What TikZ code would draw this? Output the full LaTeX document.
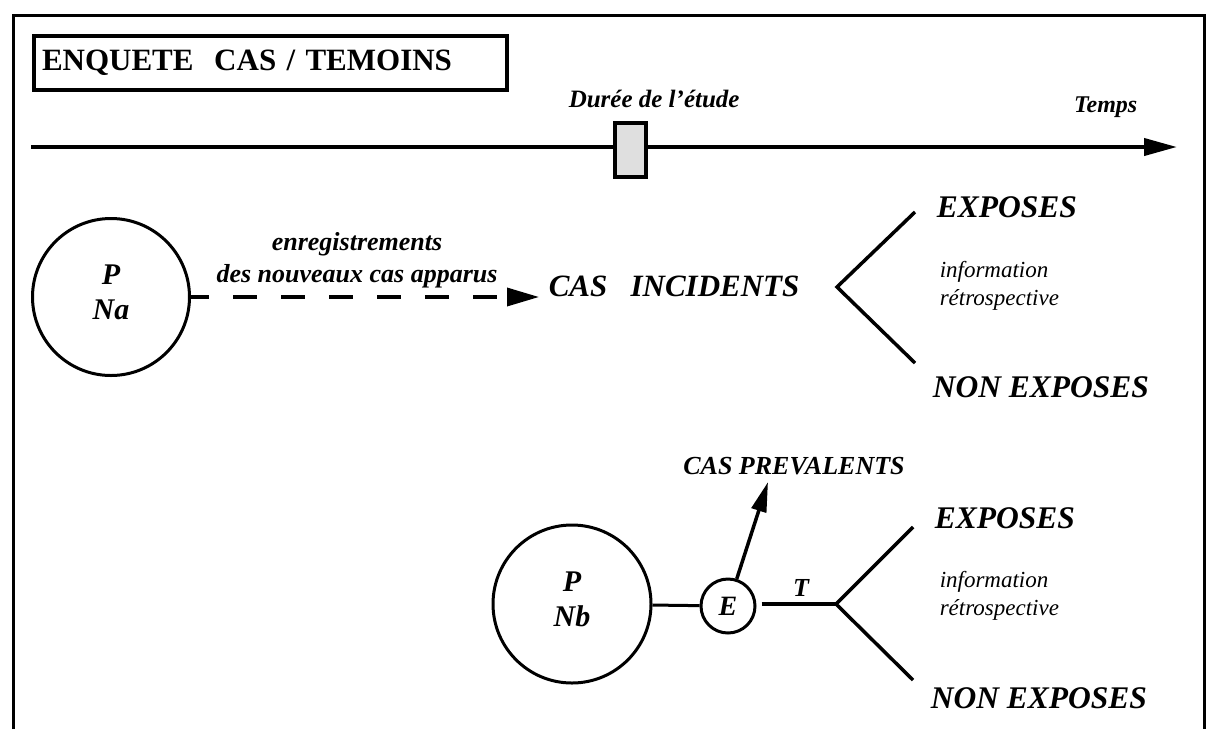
\documentclass[tikz,border=0pt]{standalone}
\usepackage{fontspec}
\setmainfont{Liberation Serif}
\usetikzlibrary{arrows.meta}

\tikzset{
  lab/.style={font=\bfseries\itshape\fontsize{#1}{#1}\selectfont, inner sep=0pt},
  info/.style={font=\itshape\fontsize{23}{28}\selectfont, inner sep=0pt, align=left, anchor=base west},
  pop/.style={circle, draw, line width=3pt, align=center, inner sep=0pt,
              font=\bfseries\itshape\fontsize{30}{35}\selectfont, text depth=9pt},
}

\begin{document}
\begin{tikzpicture}[x=1pt, y=-1pt, line width=3.5pt]
  \useasboundingbox (0,0) rectangle (1209,729);

  % Frame and title
  \draw[line width=3pt] (13,729) -- (13,15) -- (1204,15) -- (1204,729);
  \node[draw, anchor=north west, minimum width=473, minimum height=54,
        text width=457, align=left, inner xsep=8pt, line width=4pt,
        font=\bfseries\fontsize{31}{31}\selectfont] (title) at (32,34) {ENQUETE\ \ CAS / TEMOINS};

  % Time axis
  \coordinate (t0) at (31,147);
  \coordinate (t1) at (1177,147);
  \draw[line width=4pt, -{Triangle[length=33pt,width=17pt]}] (t0) -- (t1);
  \node[draw, fill=gray!25, line width=4pt, minimum width=31, minimum height=54, inner sep=0pt] (etude) at (630,150) {};
  \node[lab=25, anchor=base west] (duree) at (567,107) {Durée de l'étude};
  \node[lab=24, anchor=base east] (temps) at (1139,112) {Temps};

  % Incident cases
  \node[pop, minimum size=157] (Na) at (111,297) {P\\Na};
  \node[lab=31, anchor=base west] (inc) at (547,296) {CAS\ \ \ INCIDENTS};
  \draw[dash pattern=on 24pt off 24pt, dash phase=6pt, -{Triangle[length=32pt,width=18pt]},
        shorten >=8pt] (Na.east) -- (Na.east -| inc.west);
  \node[align=center, inner sep=0pt, font=\bfseries\itshape\fontsize{26}{32}\selectfont,
        anchor=base] (enr) at (357,282) {enregistrements\\des nouveaux cas apparus};

  \coordinate (ba) at (837,287);
  \coordinate (ba1) at (915,212);
  \coordinate (ba2) at (915,363);
  \draw (ba1) -- (ba) -- (ba2);
  \node[lab=31.5, anchor=base west] (expa) at (935,217) {EXPOSES};
  \node[info] (infoa) at (938,305) {information\\rétrospective};
  \node[lab=31.5, anchor=base west] (nona) at (931,397) {NON EXPOSES};

  % Prevalent cases
  \node[pop, minimum size=158] (Nb) at (572,604) {P\\Nb};
  \node[pop, minimum size=54, text depth=0pt, font=\bfseries\itshape\fontsize{28}{28}\selectfont] (E) at (728,606) {E};
  \node[lab=26] (prev) at (794,466) {CAS PREVALENTS};
  \coordinate (pv) at (768,482);
  \draw[line width=3pt] (Nb) -- (E);
  \draw[-{Triangle[length=30pt,width=15pt]}] (E) -- (pv);

  \coordinate (bb) at (836,604);
  \coordinate (bb1) at (913,527);
  \coordinate (bb2) at (913,680);
  \draw[shorten <=5pt] (E.east |- bb) -- (bb);
  \node[lab=26] (T) at (801,588) {T};
  \draw (bb1) -- (bb) -- (bb2);
  \node[lab=31.5, anchor=base west] (expb) at (933,528) {EXPOSES};
  \node[info] (infob) at (938,615) {information\\rétrospective};
  \node[lab=31.5, anchor=base west] (nonb) at (929,708) {NON EXPOSES};
\end{tikzpicture}
\end{document}
